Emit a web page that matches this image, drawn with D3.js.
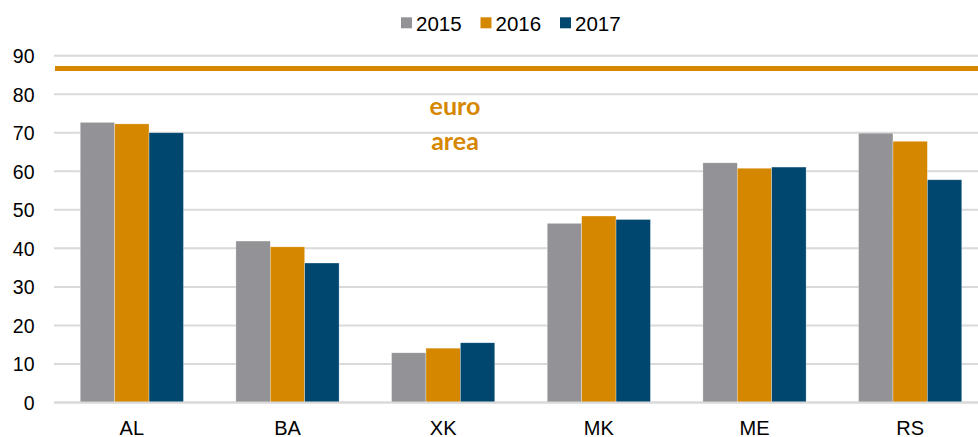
<!DOCTYPE html>
<html>
<head>
<meta charset="utf-8">
<script src="https://cdn.jsdelivr.net/npm/d3@7"></script>
<style>
  html, body { margin: 0; padding: 0; background: #fff; }
  svg { display: block; }
</style>
</head>
<body>
<svg id="chart" width="978" height="437"></svg>
<script>
// Country codes along the x axis
const categories = ["AL", "BA", "XK", "MK", "ME", "RS"];
// Series (years) and their values per country
const years = ["2015", "2016", "2017"];
const values2015 = [72.7, 41.9, 12.9, 46.5, 62.2, 69.9];
const values2016 = [72.3, 40.4, 14.1, 48.4, 60.8, 67.8];
const values2017 = [70.0, 36.2, 15.5, 47.5, 61.1, 57.8];
// Euro area reference level
const euroArea = 86.7;
const euroLabel = ["euro", "area"];
const yTicks = [0, 10, 20, 30, 40, 50, 60, 70, 80, 90];

const colors = { "2015": "#939397", "2016": "#d58700", "2017": "#00476f" };
const seriesValues = { "2015": values2015, "2016": values2016, "2017": values2017 };

const rows = categories.map((c, i) => ({
  cat: c,
  vals: years.map(yr => ({ year: yr, value: seriesValues[yr][i] }))
}));

const svg = d3.select("#chart");
const plotLeft = 54, plotRight = 988, plotTop = 55.7, plotBottom = 402.5;

const x = d3.scaleBand().domain(categories).range([plotLeft, plotRight]).paddingInner(0.337).paddingOuter(0.1685);
const xInner = d3.scaleBand().domain(years).range([0, x.bandwidth()]);
const y = d3.scaleLinear().domain([0, 90]).range([plotBottom, plotTop]);

// Horizontal gridlines
svg.append("g")
  .selectAll("line")
  .data(yTicks)
  .join("line")
  .attr("x1", plotLeft).attr("x2", 978)
  .attr("y1", d => y(d)).attr("y2", d => y(d))
  .attr("stroke", "#d9d9d9")
  .attr("stroke-width", 2);

// Y axis labels
const yAxis = d3.axisLeft(y).tickValues(yTicks).tickSize(0).tickPadding(0);
svg.append("g")
  .attr("transform", `translate(${34.5},0)`)
  .call(yAxis)
  .call(g => g.select(".domain").remove())
  .call(g => g.selectAll("text")
    .attr("font-family", "Liberation Sans, Arial, sans-serif")
    .attr("font-size", 19.5)
    .attr("fill", "#000")
    .attr("dy", "0.35em"));

// Bars
const groups = svg.append("g")
  .selectAll("g")
  .data(rows)
  .join("g")
  .attr("transform", d => `translate(${x(d.cat)},0)`);

groups.selectAll("rect")
  .data(d => d.vals)
  .join("rect")
  .attr("x", d => xInner(d.year))
  .attr("width", xInner.bandwidth())
  .attr("y", d => y(d.value))
  .attr("height", d => y(0) - y(d.value))
  .attr("fill", d => colors[d.year])
  .attr("stroke", "#fff")
  .attr("stroke-width", 0.6)
  .attr("stroke-opacity", 0.5);

// Baseline
svg.append("line")
  .attr("x1", plotLeft).attr("x2", 978)
  .attr("y1", y(0)).attr("y2", y(0))
  .attr("stroke", "#d9d9d9")
  .attr("stroke-width", 2);

// X axis labels
const xAxis = d3.axisBottom(x).tickSize(0).tickPadding(0);
svg.append("g")
  .attr("transform", `translate(0,${434.5})`)
  .call(xAxis)
  .call(g => g.select(".domain").remove())
  .call(g => g.selectAll("text")
    .attr("font-family", "Liberation Sans, Arial, sans-serif")
    .attr("font-size", 20)
    .attr("fill", "#000")
    .attr("y", 0)
    .attr("dy", 0));

// Euro area reference line
svg.append("line")
  .attr("x1", 55).attr("x2", 978)
  .attr("y1", y(euroArea)).attr("y2", y(euroArea))
  .attr("stroke", "#d58700")
  .attr("stroke-width", 5);

svg.append("g")
  .selectAll("text")
  .data(euroLabel)
  .join("text")
  .attr("x", 455)
  .attr("y", (d, i) => 115 + i * 35)
  .attr("text-anchor", "middle")
  .attr("font-family", "Lato, sans-serif")
  .attr("font-weight", "bold")
  .attr("font-size", 25)
  .attr("fill", "#d58700")
  .text(d => d);

// Legend
const legendX = [401, 480.5, 560];
const legend = svg.append("g")
  .selectAll("g")
  .data(years)
  .join("g")
  .attr("transform", (d, i) => `translate(${legendX[i]},0)`);
legend.append("rect")
  .attr("x", 0).attr("y", 17.3)
  .attr("width", 11).attr("height", 11)
  .attr("fill", d => colors[d]);
legend.append("text")
  .attr("x", 15).attr("y", 31)
  .attr("font-family", "Liberation Sans, Arial, sans-serif")
  .attr("font-size", 20.5)
  .attr("fill", "#000")
  .text(d => d);
</script>
</body>
</html>
